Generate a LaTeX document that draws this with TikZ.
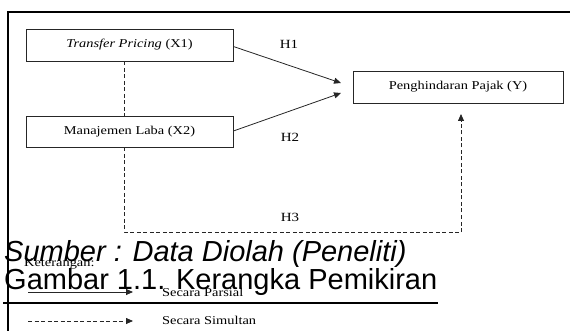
\documentclass[tikz,border=0pt]{standalone}
\usepackage{fontspec}
\setmainfont{Liberation Serif}
\newfontfamily\arialf{Liberation Sans}
\usetikzlibrary{arrows.meta,calc}
\newcommand\wtxt[1]{\scalebox{1.2}[1]{#1}}
\tikzset{
  varbox/.style={draw=black!85, line width=0.8pt, minimum width=207pt, minimum height=32pt,
    inner sep=0pt, font=\fontsize{12}{14}\selectfont},
  link/.style={draw=black!85, line width=0.8pt},
  tip/.style={-{Triangle[length=7pt,width=6pt]}},
  dsh/.style={dash pattern=on 4pt off 2.5pt},
  lbl/.style={inner sep=0pt, font=\fontsize{12.5}{14}\selectfont},
  small/.style={inner sep=0pt, anchor=base west, font=\fontsize{12}{14}\selectfont},
  big/.style={inner sep=0pt, anchor=base west, font=\arialf\fontsize{29}{33}\selectfont},
  frame/.style={line width=1.6pt, black}
}
\begin{document}
\begin{tikzpicture}[x=1pt,y=-1pt]
\useasboundingbox (0,0) rectangle (570,331);
% frame
\coordinate (fr1) at (571,12);
\coordinate (fr2) at (8,12);
\coordinate (fr3) at (8,332);
\draw[frame] (fr1) -- (fr2) -- (fr3);
% boxes
\node[varbox] (x1) at (129.5,45) {\wtxt{\textit{Transfer Pricing} (X1)}};
\node[varbox, minimum height=31pt] (x2) at (129.5,131.5) {\wtxt{Manajemen Laba (X2)}};
\node[varbox, minimum width=210pt] (y) at (458,87) {\wtxt{Penghindaran Pajak (Y)}};
% arrows H1 H2
\coordinate (t1) at (341,83);
\coordinate (t2) at (341,93);
\draw[link, tip] (x1.east |- 0,46.5) -- (t1);
\draw[link, tip] (x2.east |- 0,131) -- (t2);
\node[lbl] (h1) at (289,44) {\wtxt{H1}};
\node[lbl] (h2) at (290,137) {\wtxt{H2}};
% dashed simultaneous
\coordinate (dl) at (124,232);
\coordinate (dr) at (461,232);
\coordinate (dt) at (461,114);
\draw[link, dsh] (x1.south -| 124,0) -- (x2.north -| 124,0);
\draw[link, dsh] (x2.south -| 124,0) -- (dl) -- (dr);
\draw[link, dsh, tip] (dr) -- (dt);
\node[lbl] (h3) at (290,217) {\wtxt{H3}};
% legend
\node[small] (ket) at (24,266) {\wtxt{Keterangan:}};
\coordinate (ls1) at (28,292);
\coordinate (ls2) at (133,292);
\coordinate (ld1) at (28,321);
\coordinate (ld2) at (133,321);
\draw[link, tip] (ls1) -- (ls2);
\draw[link, dsh, tip] (ld1) -- (ld2);
\node[small] (par) at (162,296) {\wtxt{Secara Parsial}};
\node[small] (sim) at (162,324) {\wtxt{Secara Simultan}};
% caption texts
\node[big] (sumber) at (4,261) {\itshape Sumber : Data Diolah (Peneliti)};
\node[big] (gambar) at (4,289) {Gambar 1.1. Kerangka Pemikiran};
\coordinate (ul1) at (3,303);
\coordinate (ul2) at (438,303);
\draw[line width=2.6pt] (ul1) -- (ul2);
\end{tikzpicture}
\end{document}
